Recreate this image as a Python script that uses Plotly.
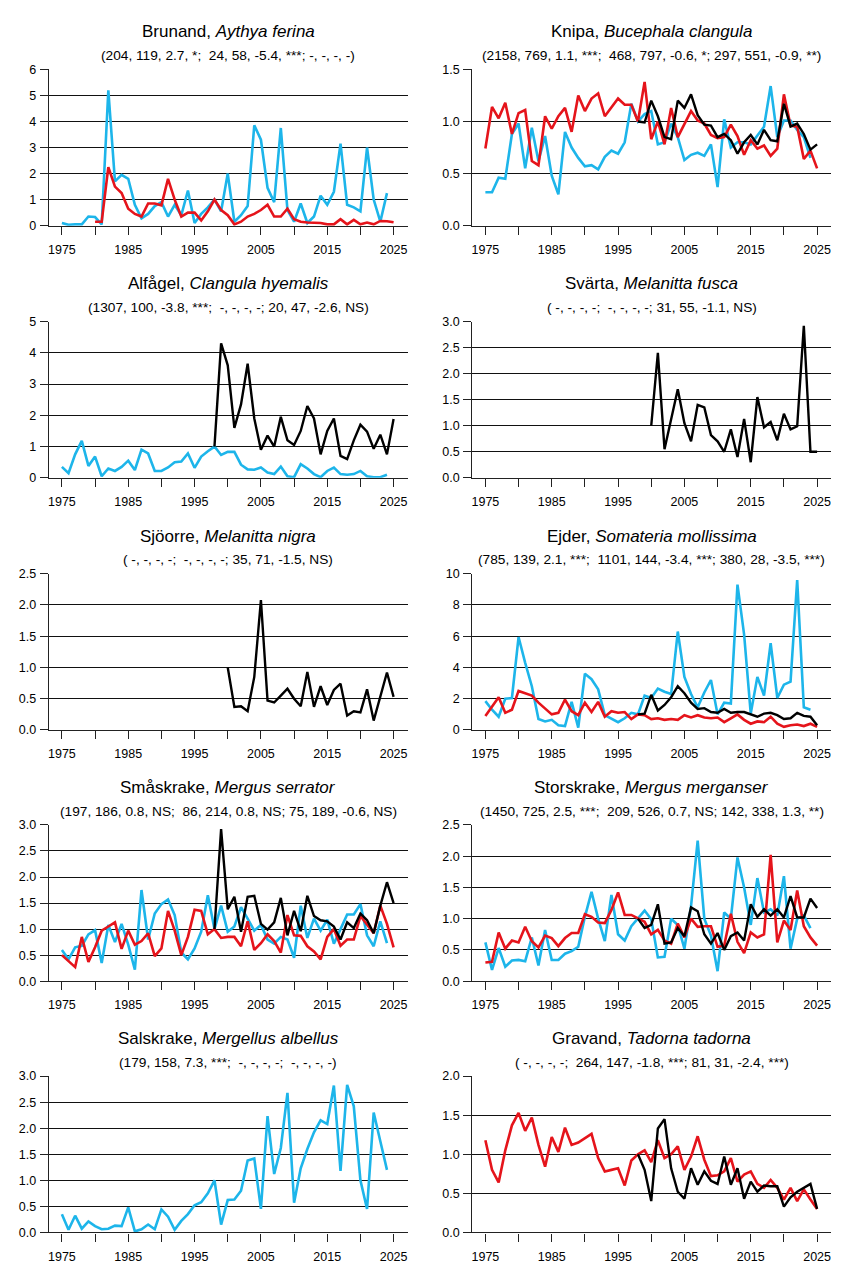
import plotly.graph_objects as go

# ---------------- data ----------------
brunand_blue_start = 1975
brunand_blue = [0.10,0.03,0.05,0.05,0.35,0.33,0.05,5.20,1.70,1.95,
                1.80,0.80,0.28,0.45,0.75,0.90,0.35,0.80,0.40,1.35,
                0.10,0.45,0.70,1.00,0.55,2.00,0.15,0.40,0.75,3.85,
                3.30,1.45,0.90,3.75,0.60,0.15,0.85,0.10,0.35,1.15,
                0.80,1.30,3.15,0.80,0.70,0.55,3.00,1.00,0.15,1.25]
brunand_red_start = 1980
brunand_red = [0.15,0.15,2.25,1.50,1.25,
               0.65,0.45,0.35,0.85,0.85,0.78,1.80,1.00,0.35,0.50,
               0.50,0.20,0.55,1.00,0.60,0.40,0.05,0.15,0.35,0.45,
               0.60,0.80,0.35,0.35,0.65,0.25,0.15,0.12,0.10,0.10,
               0.05,0.05,0.25,0.05,0.22,0.05,0.12,0.05,0.18,0.17,
               0.13]

knipa_blue_start = 1975
knipa_blue = [0.32,0.32,0.46,0.45,0.88,0.98,0.55,0.94,0.62,0.86,
              0.48,0.30,0.90,0.75,0.65,0.57,0.58,0.54,0.66,0.72,
              0.69,0.80,1.17,1.00,1.07,1.10,0.78,0.80,0.98,0.85,
              0.63,0.68,0.70,0.67,0.78,0.37,1.02,0.75,0.80,0.80,
              0.78,0.86,0.95,1.34,0.85,1.01,1.01,0.92,0.85,0.65]
knipa_red_start = 1975
knipa_red = [0.74,1.14,1.03,1.18,0.88,1.08,1.11,0.62,0.58,1.05,
             0.93,1.05,1.13,0.90,1.25,1.10,1.22,1.27,1.05,1.13,
             1.22,1.16,1.16,1.00,1.38,0.83,1.00,0.78,1.13,0.85,
             0.97,1.10,1.01,0.98,0.87,0.84,0.85,0.97,0.86,0.68,
             0.82,0.74,0.77,0.67,0.74,1.26,0.96,0.95,0.64,0.72,
             0.55]
knipa_black_start = 1998
knipa_black = [1.00,0.99,1.20,1.05,0.85,0.83,1.20,1.13,1.26,1.06,
               0.97,0.96,0.85,0.88,0.82,0.69,0.80,0.87,0.78,0.92,
               0.82,0.81,1.17,0.95,0.98,0.88,0.73,0.78]

alfagel_blue_start = 1975
alfagel_blue = [0.35,0.15,0.75,1.18,0.38,0.68,0.05,0.30,0.22,0.35,
                0.55,0.25,0.90,0.78,0.22,0.22,0.33,0.50,0.52,0.78,
                0.32,0.68,0.85,1.00,0.73,0.83,0.83,0.42,0.27,0.26,
                0.33,0.17,0.12,0.36,0.05,0.02,0.44,0.30,0.12,0.02,
                0.22,0.33,0.12,0.10,0.12,0.22,0.05,0.02,0.02,0.10]
alfagel_black_start = 1998
alfagel_black = [1.00,4.30,3.60,1.60,2.35,3.65,1.90,0.90,1.35,1.00,
                 1.95,1.20,1.05,1.50,2.30,1.90,0.75,1.50,1.90,0.70,
                 0.60,1.20,1.70,1.48,0.93,1.38,0.75,1.88]

svarta_black_start = 2000
svarta_black = [1.00,2.40,0.55,1.15,1.70,1.05,0.70,1.40,1.35,0.82,
                0.70,0.50,0.93,0.40,1.13,0.30,1.55,0.97,1.07,0.72,
                1.23,0.93,0.99,2.92,0.50,0.50]

sjoorre_black_start = 2000
sjoorre_black = [1.00,0.37,0.38,0.30,0.85,2.08,0.47,0.44,0.55,0.66,
                 0.50,0.38,0.93,0.37,0.70,0.40,0.64,0.74,0.23,0.30,
                 0.28,0.65,0.15,0.52,0.92,0.53]

ejder_blue_start = 1975
ejder_blue = [1.85,1.30,0.85,2.00,2.05,5.95,4.30,2.80,0.70,0.55,
              0.65,0.30,0.25,1.80,0.15,3.60,3.25,2.60,0.95,0.75,
              0.50,0.75,1.10,1.00,2.20,2.05,2.65,2.45,2.30,6.30,
              3.40,2.30,1.45,2.40,3.20,1.00,1.75,1.70,9.30,6.10,
              1.05,3.40,2.20,5.55,2.05,2.90,3.10,9.60,1.45,1.30]
ejder_red_start = 1975
ejder_red = [0.90,1.50,2.10,1.10,1.30,2.50,2.35,2.20,1.75,1.35,
             1.00,1.10,1.95,1.20,0.95,1.75,1.15,1.80,0.85,1.20,
             1.10,1.15,0.70,1.00,0.95,0.70,0.75,0.65,0.70,0.65,
             0.95,0.80,0.95,0.80,0.75,0.80,0.50,0.75,1.00,0.65,
             0.40,0.55,0.50,0.85,0.40,0.20,0.30,0.35,0.25,0.40,
             0.20]
ejder_black_start = 1998
ejder_black = [1.00,1.05,2.25,1.25,1.60,2.10,2.80,2.35,1.75,1.35,
               1.40,1.15,1.10,1.35,1.10,1.15,1.15,1.00,0.85,1.05,
               1.10,0.95,0.70,0.75,1.10,0.90,0.85,0.30]

smaskrake_blue_start = 1975
smaskrake_blue = [0.60,0.42,0.65,0.68,0.90,0.98,0.35,1.08,0.75,1.10,
                  0.70,0.22,1.75,0.80,1.30,1.48,1.57,1.27,0.55,0.42,
                  0.63,0.95,1.65,1.00,1.45,0.95,1.05,1.42,1.20,0.97,
                  1.08,0.80,0.72,0.85,0.80,0.45,1.45,0.83,1.20,0.97,
                  1.18,0.72,1.00,1.28,1.28,1.48,0.88,0.67,1.15,0.73]
smaskrake_red_start = 1975
smaskrake_red = [0.50,0.38,0.27,0.85,0.37,0.65,0.97,1.05,1.13,0.62,
                 0.97,0.70,0.77,0.92,0.48,0.63,1.35,0.97,0.50,0.85,
                 1.37,1.35,0.90,1.00,0.83,0.85,0.85,0.67,1.15,0.60,
                 0.73,0.90,0.77,0.55,1.27,0.88,0.87,0.67,0.57,0.42,
                 0.85,1.00,0.68,0.80,0.80,1.25,1.08,0.92,1.45,1.10,
                 0.65]
smaskrake_black_start = 1998
smaskrake_black = [1.00,2.92,1.38,1.62,0.95,1.62,1.64,1.10,0.99,1.13,
                   1.60,0.88,1.35,0.96,1.64,1.25,1.17,1.15,1.05,0.80,
                   1.13,1.02,1.30,1.17,0.92,1.45,1.90,1.50]

storskrake_blue_start = 1975
storskrake_blue = [0.62,0.18,0.53,0.23,0.33,0.34,0.32,0.70,0.25,0.82,
                   0.34,0.34,0.44,0.48,0.55,1.03,1.43,1.00,0.64,1.38,
                   0.75,0.65,0.88,1.00,1.13,0.99,0.38,0.39,1.00,0.90,
                   0.52,1.20,2.25,1.00,0.73,0.16,1.10,1.00,1.98,1.50,
                   0.90,1.65,1.10,1.15,1.05,1.68,0.52,1.00,1.05,0.85]
storskrake_red_start = 1975
storskrake_red = [0.30,0.31,0.78,0.52,0.65,0.62,0.87,0.64,0.54,0.73,
                  0.69,0.56,0.69,0.77,0.77,1.07,1.03,0.94,0.93,1.14,
                  1.42,1.06,1.06,1.00,0.95,0.75,0.82,0.65,0.60,0.92,
                  0.70,1.00,0.87,0.88,0.88,0.55,0.57,1.08,0.63,0.45,
                  0.78,0.70,0.75,2.02,0.62,0.97,0.82,1.45,0.88,0.70,
                  0.57]
storskrake_black_start = 1998
storskrake_black = [1.00,0.85,0.90,1.23,0.60,0.62,0.85,0.72,1.18,1.12,
                    0.75,0.60,0.77,0.50,0.72,0.78,0.65,1.23,1.03,1.15,
                    1.05,1.15,1.02,1.36,1.02,1.02,1.32,1.17]

salskrake_blue_start = 1975
salskrake_blue = [0.35,0.05,0.32,0.07,0.21,0.12,0.06,0.07,0.13,0.12,
                  0.48,0.02,0.06,0.15,0.06,0.44,0.30,0.05,0.22,0.35,
                  0.52,0.58,0.75,1.00,0.15,0.62,0.63,0.80,1.38,1.42,
                  0.45,2.23,1.12,1.62,2.68,0.57,1.23,1.60,1.92,2.15,
                  2.08,2.82,1.18,2.83,2.42,1.00,0.45,2.30,1.75,1.20]

gravand_red_start = 1975
gravand_red = [1.18,0.80,0.64,1.05,1.37,1.53,1.30,1.47,1.12,0.84,
               1.22,1.03,1.34,1.12,1.15,1.20,1.26,0.95,0.78,0.80,
               0.82,0.60,0.92,1.00,1.05,0.90,1.18,0.95,1.00,1.10,
               0.80,0.97,1.23,0.93,0.72,0.73,0.78,0.95,0.65,0.74,
               0.78,0.62,0.57,0.67,0.57,0.42,0.57,0.40,0.55,0.42,
               0.30]
gravand_black_start = 1998
gravand_black = [1.00,0.80,0.40,1.33,1.45,0.82,0.52,0.43,0.82,0.61,
                 0.78,0.66,0.62,0.97,0.61,0.82,0.43,0.65,0.52,0.60,
                 0.59,0.59,0.33,0.45,0.52,0.57,0.62,0.30]

titles = ["Brunand, <i>Aythya ferina</i>", "Knipa, <i>Bucephala clangula</i>",
          "Alfågel, <i>Clangula hyemalis</i>", "Svärta, <i>Melanitta fusca</i>",
          "Sjöorre, <i>Melanitta nigra</i>", "Ejder, <i>Somateria mollissima</i>",
          "Småskrake, <i>Mergus serrator</i>", "Storskrake, <i>Mergus merganser</i>",
          "Salskrake, <i>Mergellus albellus</i>", "Gravand, <i>Tadorna tadorna</i>"]
subtitles = ["(204, 119, 2.7, *;  24, 58, -5.4, ***; -, -, -, -)",
             "(2158, 769, 1.1, ***;  468, 797, -0.6, *; 297, 551, -0.9, **)",
             "(1307, 100, -3.8, ***;  -, -, -, -; 20, 47, -2.6, NS)",
             "( -, -, -, -;  -, -, -, -; 31, 55, -1.1, NS)",
             "( -, -, -, -;  -, -, -, -; 35, 71, -1.5, NS)",
             "(785, 139, 2.1, ***;  1101, 144, -3.4, ***; 380, 28, -3.5, ***)",
             "(197, 186, 0.8, NS;  86, 214, 0.8, NS; 75, 189, -0.6, NS)",
             "(1450, 725, 2.5, ***;  209, 526, 0.7, NS; 142, 338, 1.3, **)",
             "(179, 158, 7.3, ***;  -, -, -, -;  -, -, -, -)",
             "( -, -, -, -;  264, 147, -1.8, ***; 81, 31, -2.4, ***)"]
y_max = [6, 1.5, 5, 3, 2.5, 10, 3, 2.5, 3, 2]
y_step = [1, 0.5, 1, 0.5, 0.5, 2, 0.5, 0.5, 0.5, 0.5]
y_fmt = ["d", ".1f", "d", ".1f", ".1f", "d", ".1f", ".1f", ".1f", ".1f"]

panels = [
    [("blue", brunand_blue_start, brunand_blue), ("red", brunand_red_start, brunand_red)],
    [("blue", knipa_blue_start, knipa_blue), ("red", knipa_red_start, knipa_red), ("black", knipa_black_start, knipa_black)],
    [("blue", alfagel_blue_start, alfagel_blue), ("black", alfagel_black_start, alfagel_black)],
    [("black", svarta_black_start, svarta_black)],
    [("black", sjoorre_black_start, sjoorre_black)],
    [("blue", ejder_blue_start, ejder_blue), ("red", ejder_red_start, ejder_red), ("black", ejder_black_start, ejder_black)],
    [("blue", smaskrake_blue_start, smaskrake_blue), ("red", smaskrake_red_start, smaskrake_red), ("black", smaskrake_black_start, smaskrake_black)],
    [("blue", storskrake_blue_start, storskrake_blue), ("red", storskrake_red_start, storskrake_red), ("black", storskrake_black_start, storskrake_black)],
    [("blue", salskrake_blue_start, salskrake_blue)],
    [("red", gravand_red_start, gravand_red), ("black", gravand_black_start, gravand_black)],
]

x_ticks = list(range(1975, 2026, 5))
x_ticktext = [str(v) if (v - 1975) % 10 == 0 else "" for v in x_ticks]

# ---------------- styling / layout ----------------
# The page body has an 8px margin, so the figure is drawn 8px smaller and
# all page-pixel positions are shifted by that offset.
OFF = 8
W, H = 848 - OFF, 1272 - OFF
FONT = "Liberation Sans, Arial, sans-serif"
colors = {"blue": "#1DB5EA", "red": "#E5141B", "black": "#000000"}
widths = {"blue": 2.6, "red": 2.6, "black": 2.4}
col_px = [(48, 407), (472, 831)]
row_px = [(63, 221), (318, 476), (573, 731), (827, 985), (1081, 1239)]

fig = go.Figure()
annotations = []
layout = dict(width=W, height=H, margin=dict(l=0, r=0, t=0, b=0),
              paper_bgcolor="white", plot_bgcolor="white", showlegend=False,
              font=dict(family=FONT, size=12, color="black"))

for i, series in enumerate(panels):
    r, c = divmod(i, 2)
    x0, x1 = [v - OFF for v in col_px[c]]
    top, bot = [v - OFF for v in row_px[r]]
    ax = "" if i == 0 else str(i + 1)
    for name, start, vals in series:
        fig.add_trace(go.Scatter(
            x=list(range(start, start + len(vals))), y=vals, mode="lines",
            line=dict(color=colors[name], width=widths[name]),
            xaxis="x" + ax, yaxis="y" + ax, hoverinfo="skip"))
    layout["xaxis" + ax] = dict(
        domain=[x0 / W, x1 / W], anchor="y" + ax, range=[1973.05, 2027.1],
        tickmode="array", tickvals=x_ticks, ticktext=x_ticktext,
        ticks="outside", ticklen=8, tickcolor="#222222", tickwidth=1.2,
        ticklabelstandoff=4,
        showline=True, linecolor="#222222", linewidth=1.4, showgrid=False,
        zeroline=False, tickfont=dict(size=12.5, family=FONT, color="black"))
    layout["yaxis" + ax] = dict(
        domain=[1 - bot / H, 1 - top / H], anchor="x" + ax,
        range=[0, y_max[i]], tickmode="linear", tick0=0, dtick=y_step[i],
        tickformat=y_fmt[i], ticks="outside", ticklen=8, tickcolor="#222222",
        tickwidth=1, ticklabelstandoff=1,
        showline=True, linecolor="#222222", linewidth=1.4,
        showgrid=True, gridcolor="#111111", gridwidth=1, zeroline=False,
        tickfont=dict(size=12.5, family=FONT, color="black"))
    cx = (x0 + x1) / 2 / W
    annotations.append(dict(text=titles[i], x=cx, y=1 - (top - 38) / H,
                            xref="paper", yref="paper", showarrow=False,
                            xanchor="center", yanchor="middle",
                            font=dict(size=17, family=FONT, color="black")))
    annotations.append(dict(text=subtitles[i].replace("  ", "\u00a0 "), x=cx,
                            y=1 - (top - 14) / H,
                            xref="paper", yref="paper", showarrow=False,
                            xanchor="center", yanchor="middle",
                            font=dict(size=13.7, family=FONT, color="black")))

layout["annotations"] = annotations
fig.update_layout(**layout)
fig.write_html("out.html")
